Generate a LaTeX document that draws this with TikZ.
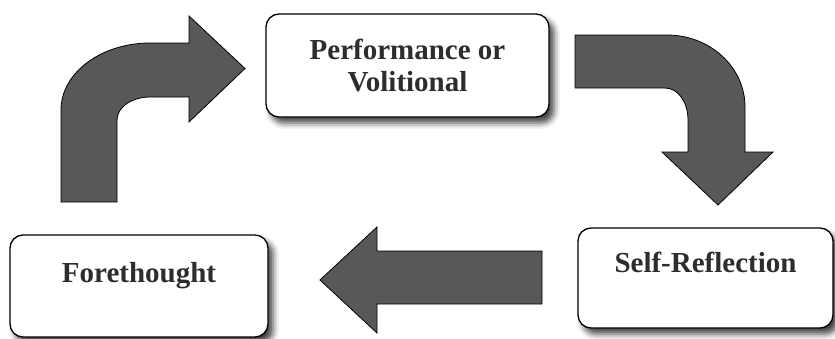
\documentclass[tikz,border=0pt]{standalone}
\usepackage{fontspec}
\setmainfont{Liberation Serif}
\usetikzlibrary{shadows.blur}
\definecolor{arrowfill}{RGB}{88,88,88}
\definecolor{textgray}{RGB}{45,45,45}
\tikzset{
  phasebox/.style={draw=black, line width=1.3pt, fill=white, rounded corners=13pt,
    inner sep=0pt, align=center, text=textgray,
    font=\fontsize{29}{32}\selectfont\bfseries,
    blur shadow={shadow xshift=5pt, shadow yshift=-6pt, shadow blur radius=6pt, shadow opacity=75}},
  blockarrow/.style={draw=black, line width=0.8pt, fill=arrowfill, line join=miter}
}
\begin{document}
\begin{tikzpicture}[x=1pt, y=-1pt]
\useasboundingbox (0,0) rectangle (835,338);

% boxes
\node[phasebox, minimum width=283pt, minimum height=103pt] (perf) at (407.5,65.5)
  {Performance or\\Volitional};
\node[phasebox, minimum width=258pt, text height=47pt, text depth=55pt, anchor=base] (fore) at (139,282)
  {Forethought};
\node[phasebox, minimum width=255pt, text height=44pt, text depth=56pt, anchor=base] (self) at (705.5,272)
  {Self-Reflection};

% bent arrow: Forethought -> Performance
\draw[blockarrow] (61,202) -- (61,110)
  .. controls (61,73) and (101,43) .. (150,43)
  -- (189,43) -- (189,16) -- (245,68.5) -- (189,122) -- (189,97)
  -- (150,97)
  .. controls (132,97) and (117,107) .. (117,120)
  -- (117,202) -- cycle;

% bent arrow: Performance -> Self-Reflection
\draw[blockarrow] (575,35) -- (667,35)
  .. controls (710,35) and (745,67) .. (745,107)
  -- (745,152) -- (773,152) -- (718,205) -- (662,152) -- (688,152)
  -- (688,120)
  .. controls (688,102) and (678,88) .. (665,88)
  -- (575,88) -- cycle;

% straight arrow: Self-Reflection -> Forethought
\draw[blockarrow] (542,251) -- (377,251) -- (377,227) -- (320,280)
  -- (377,333) -- (377,304) -- (542,304) -- cycle;
\end{tikzpicture}
\end{document}
